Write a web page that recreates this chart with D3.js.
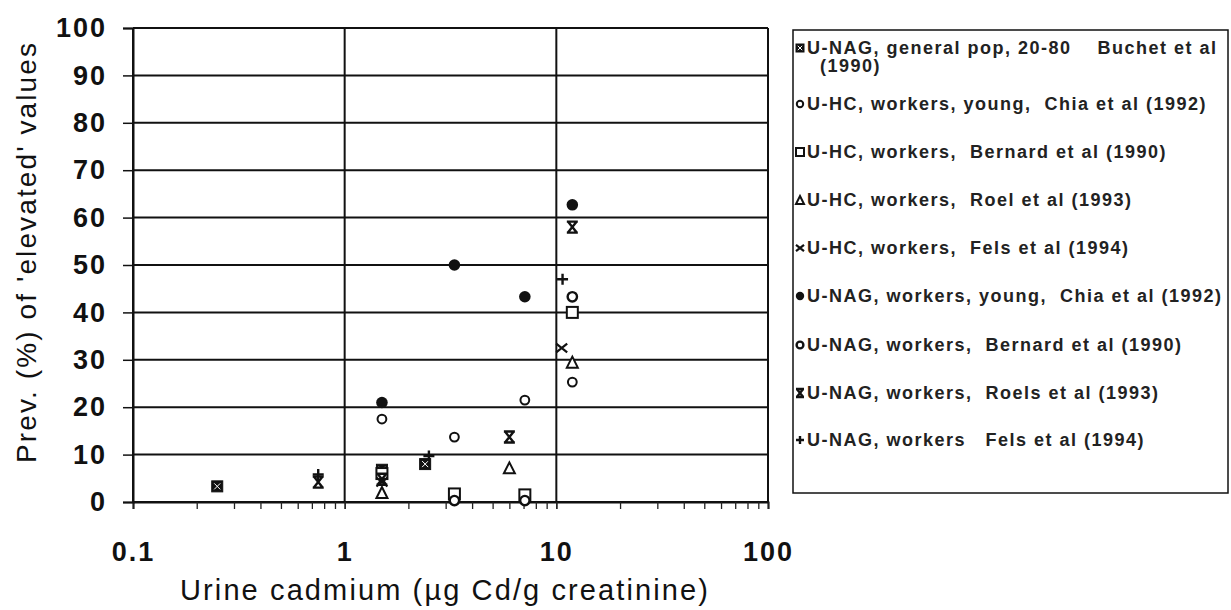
<!DOCTYPE html>
<html>
<head>
<meta charset="utf-8">
<script src="https://cdn.jsdelivr.net/npm/d3@7"></script>
<style>
  html, body { margin: 0; padding: 0; background: #fff; }
  svg { display: block; font-family: "Liberation Sans", Arial, Helvetica, sans-serif; }
  text { white-space: pre; }
</style>
</head>
<body>
<svg id="chart" width="1231" height="610"></svg>
<script>
// ---- data ----
const xTickLabels = ["0.1", "1", "10", "100"];
const xTickValues = [0.1, 1, 10, 100];
const yTickValues = [0, 10, 20, 30, 40, 50, 60, 70, 80, 90, 100];

const genPopX = [0.25, 1.5, 2.4];
const genPopY = [3.3, 6.8, 8.0];
const uhcChiaX = [1.5, 3.3, 7.1, 11.9];
const uhcChiaY = [17.5, 13.7, 21.5, 25.3];
const uhcBernardX = [1.5, 3.3, 7.1, 11.9];
const uhcBernardY = [6.0, 1.7, 1.5, 40.0];
const uhcRoelX = [1.5, 6.0, 11.9];
const uhcRoelY = [2.0, 7.2, 29.5];
const uhcFelsX = [1.5, 10.6];
const uhcFelsY = [4.2, 32.5];
const unagChiaX = [1.5, 3.3, 7.1, 11.9];
const unagChiaY = [21.0, 50.0, 43.3, 62.7];
const unagBernardX = [3.3, 7.1, 11.9];
const unagBernardY = [0.3, 0.3, 43.3];
const unagRoelsX = [0.75, 1.5, 6.0, 11.9];
const unagRoelsY = [4.2, 4.8, 13.7, 58.0];
const unagFelsX = [0.75, 2.5, 10.7];
const unagFelsY = [5.8, 9.7, 47.0];

const seriesNames = [
  "U-NAG, general pop, 20-80    Buchet et al",
  "U-HC, workers, young,  Chia et al (1992)",
  "U-HC, workers,  Bernard et al (1990)",
  "U-HC, workers,  Roel et al (1993)",
  "U-HC, workers,  Fels et al (1994)",
  "U-NAG, workers, young,  Chia et al (1992)",
  "U-NAG, workers,  Bernard et al (1990)",
  "U-NAG, workers,  Roels et al (1993)",
  "U-NAG, workers   Fels et al (1994)"
];
const seriesMarkers = ["boxx", "circleSmall", "square", "triangle", "cross", "dot", "circle", "hourglass", "plus"];
const seriesXs = [genPopX, uhcChiaX, uhcBernardX, uhcRoelX, uhcFelsX, unagChiaX, unagBernardX, unagRoelsX, unagFelsX];
const seriesYs = [genPopY, uhcChiaY, uhcBernardY, uhcRoelY, uhcFelsY, unagChiaY, unagBernardY, unagRoelsY, unagFelsY];

// ---- layout ----
const svg = d3.select("#chart");
const L = 133, R = 768, T = 28, B = 502;
const x = d3.scaleLog().domain([0.1, 100]).range([L, R]);
const y = d3.scaleLinear().domain([0, 100]).range([B, T]);

// gridlines
const g = svg.append("g");
g.selectAll("line.hg").data(yTickValues).join("line")
  .attr("x1", L).attr("x2", R).attr("y1", d => y(d)).attr("y2", d => y(d))
  .attr("stroke", "#111").attr("stroke-width", 2);
g.selectAll("line.vg").data(xTickValues).join("line")
  .attr("x1", d => x(d)).attr("x2", d => x(d)).attr("y1", T).attr("y2", B)
  .attr("stroke", "#111").attr("stroke-width", 2);

// minor x ticks
const minor = [];
[0.1, 1, 10].forEach(dec => { for (let k = 1; k <= 10; k++) minor.push(dec * k); });
const xMinor = d3.axisBottom(x).tickValues(minor).tickSize(7).tickFormat("");
svg.append("g").attr("transform", `translate(0,${B})`).call(xMinor)
  .call(s => s.select(".domain").attr("stroke", "#111").attr("stroke-width", 2))
  .call(s => s.selectAll(".tick line").attr("stroke", "#222").attr("stroke-width", 1.3));

// major x labels
const xAxis = d3.axisBottom(x).tickValues(xTickValues).tickSize(0).tickPadding(40)
  .tickFormat((d, i) => xTickLabels[i]);
svg.append("g").attr("transform", `translate(0,${B})`).call(xAxis)
  .call(s => s.select(".domain").remove())
  .call(s => s.selectAll("text").attr("font-size", 27).attr("font-weight", "bold")
    .attr("fill", "#111").attr("letter-spacing", 2).attr("font-family", "Liberation Sans, Arial, sans-serif"));

// y axis
const yAxis = d3.axisLeft(y).tickValues(yTickValues).tickSize(10).tickPadding(16);
svg.append("g").attr("transform", `translate(${L},0)`).call(yAxis)
  .call(s => s.select(".domain").attr("stroke", "#111").attr("stroke-width", 2))
  .call(s => s.selectAll(".tick line").attr("stroke", "#111").attr("stroke-width", 1.5))
  .call(s => s.selectAll("text").attr("font-size", 27).attr("font-weight", "bold")
    .attr("fill", "#111").attr("letter-spacing", 2).attr("font-family", "Liberation Sans, Arial, sans-serif"));

// axis titles
svg.append("text").attr("x", 444).attr("y", 600).attr("text-anchor", "middle")
  .attr("font-size", 29).attr("fill", "#111")
  .attr("textLength", 528).attr("lengthAdjust", "spacing")
  .text("Urine cadmium (µg Cd/g creatinine)");
svg.append("text").attr("transform", "translate(36,253) rotate(-90)").attr("text-anchor", "middle")
  .attr("font-size", 28).attr("fill", "#111")
  .attr("textLength", 420).attr("lengthAdjust", "spacing")
  .text("Prev. (%) of 'elevated' values");

// marker drawing
function drawMarker(sel, type, s) {
  const k = s;
  if (type === "boxx") {
    sel.append("rect").attr("x", -k).attr("y", -k).attr("width", 2 * k).attr("height", 2 * k)
      .attr("fill", "#111").attr("stroke", "#111");
    sel.append("path").attr("d", `M${-k*0.55},${-k*0.55}L${k*0.55},${k*0.55}M${k*0.55},${-k*0.55}L${-k*0.55},${k*0.55}`)
      .attr("stroke", "#fff").attr("stroke-width", 1).attr("fill", "none");
  } else if (type === "circleSmall") {
    sel.append("circle").attr("r", k * 0.8).attr("fill", "#fff").attr("stroke", "#111").attr("stroke-width", 2);
  } else if (type === "circle") {
    sel.append("circle").attr("r", k * 0.85).attr("fill", "#fff").attr("stroke", "#111").attr("stroke-width", 2.4);
  } else if (type === "square") {
    sel.append("rect").attr("x", -k).attr("y", -k).attr("width", 2 * k).attr("height", 2 * k)
      .attr("fill", "#fff").attr("stroke", "#111").attr("stroke-width", 2);
  } else if (type === "triangle") {
    sel.append("path").attr("d", `M0,${-k}L${k},${k}L${-k},${k}Z`)
      .attr("fill", "#fff").attr("stroke", "#111").attr("stroke-width", 2);
  } else if (type === "cross") {
    sel.append("path").attr("d", `M${-k},${-k*0.8}L${k},${k*0.8}M${k},${-k*0.8}L${-k},${k*0.8}`)
      .attr("stroke", "#111").attr("stroke-width", 2.2).attr("fill", "none");
  } else if (type === "dot") {
    sel.append("circle").attr("r", k * 1.05).attr("fill", "#111");
  } else if (type === "hourglass") {
    sel.append("path").attr("d", `M${-k},${-k}H${k}M${-k},${k}H${k}M${-k*0.8},${-k}L${k*0.8},${k}M${k*0.8},${-k}L${-k*0.8},${k}`)
      .attr("stroke", "#111").attr("stroke-width", 2.4).attr("fill", "none");
  } else if (type === "plus") {
    sel.append("path").attr("d", `M${-k},0H${k}M0,${-k}V${k}`)
      .attr("stroke", "#111").attr("stroke-width", 2.4).attr("fill", "none");
  }
}

// points
const pts = svg.append("g");
seriesNames.forEach((name, i) => {
  const data = seriesXs[i].map((xv, j) => ({ x: xv, y: seriesYs[i][j] }));
  pts.selectAll(null).data(data).join("g")
    .attr("transform", d => `translate(${x(d.x)},${y(d.y)})`)
    .each(function () { drawMarker(d3.select(this), seriesMarkers[i], 5.5); });
});

// legend
const lg = svg.append("g");
lg.append("rect").attr("x", 793).attr("y", 30).attr("width", 435).attr("height", 463)
  .attr("fill", "#fff").attr("stroke", "#111").attr("stroke-width", 1.5);
const legendY = [48, 104, 152, 200, 248, 296, 345, 393, 440];
seriesNames.forEach((name, i) => {
  const row = lg.append("g").attr("transform", `translate(0,${legendY[i]})`);
  const m = row.append("g").attr("transform", "translate(800,0)");
  drawMarker(m, seriesMarkers[i], 4);
  row.append("text").attr("x", 807).attr("y", 6).attr("font-size", 18).attr("font-weight", "bold")
    .attr("fill", "#222").attr("letter-spacing", 1.5).text(name);
});
lg.append("text").attr("x", 820).attr("y", 72).attr("font-size", 18).attr("font-weight", "bold")
  .attr("fill", "#222").attr("letter-spacing", 1.5).text("(1990)");
</script>
</body>
</html>
